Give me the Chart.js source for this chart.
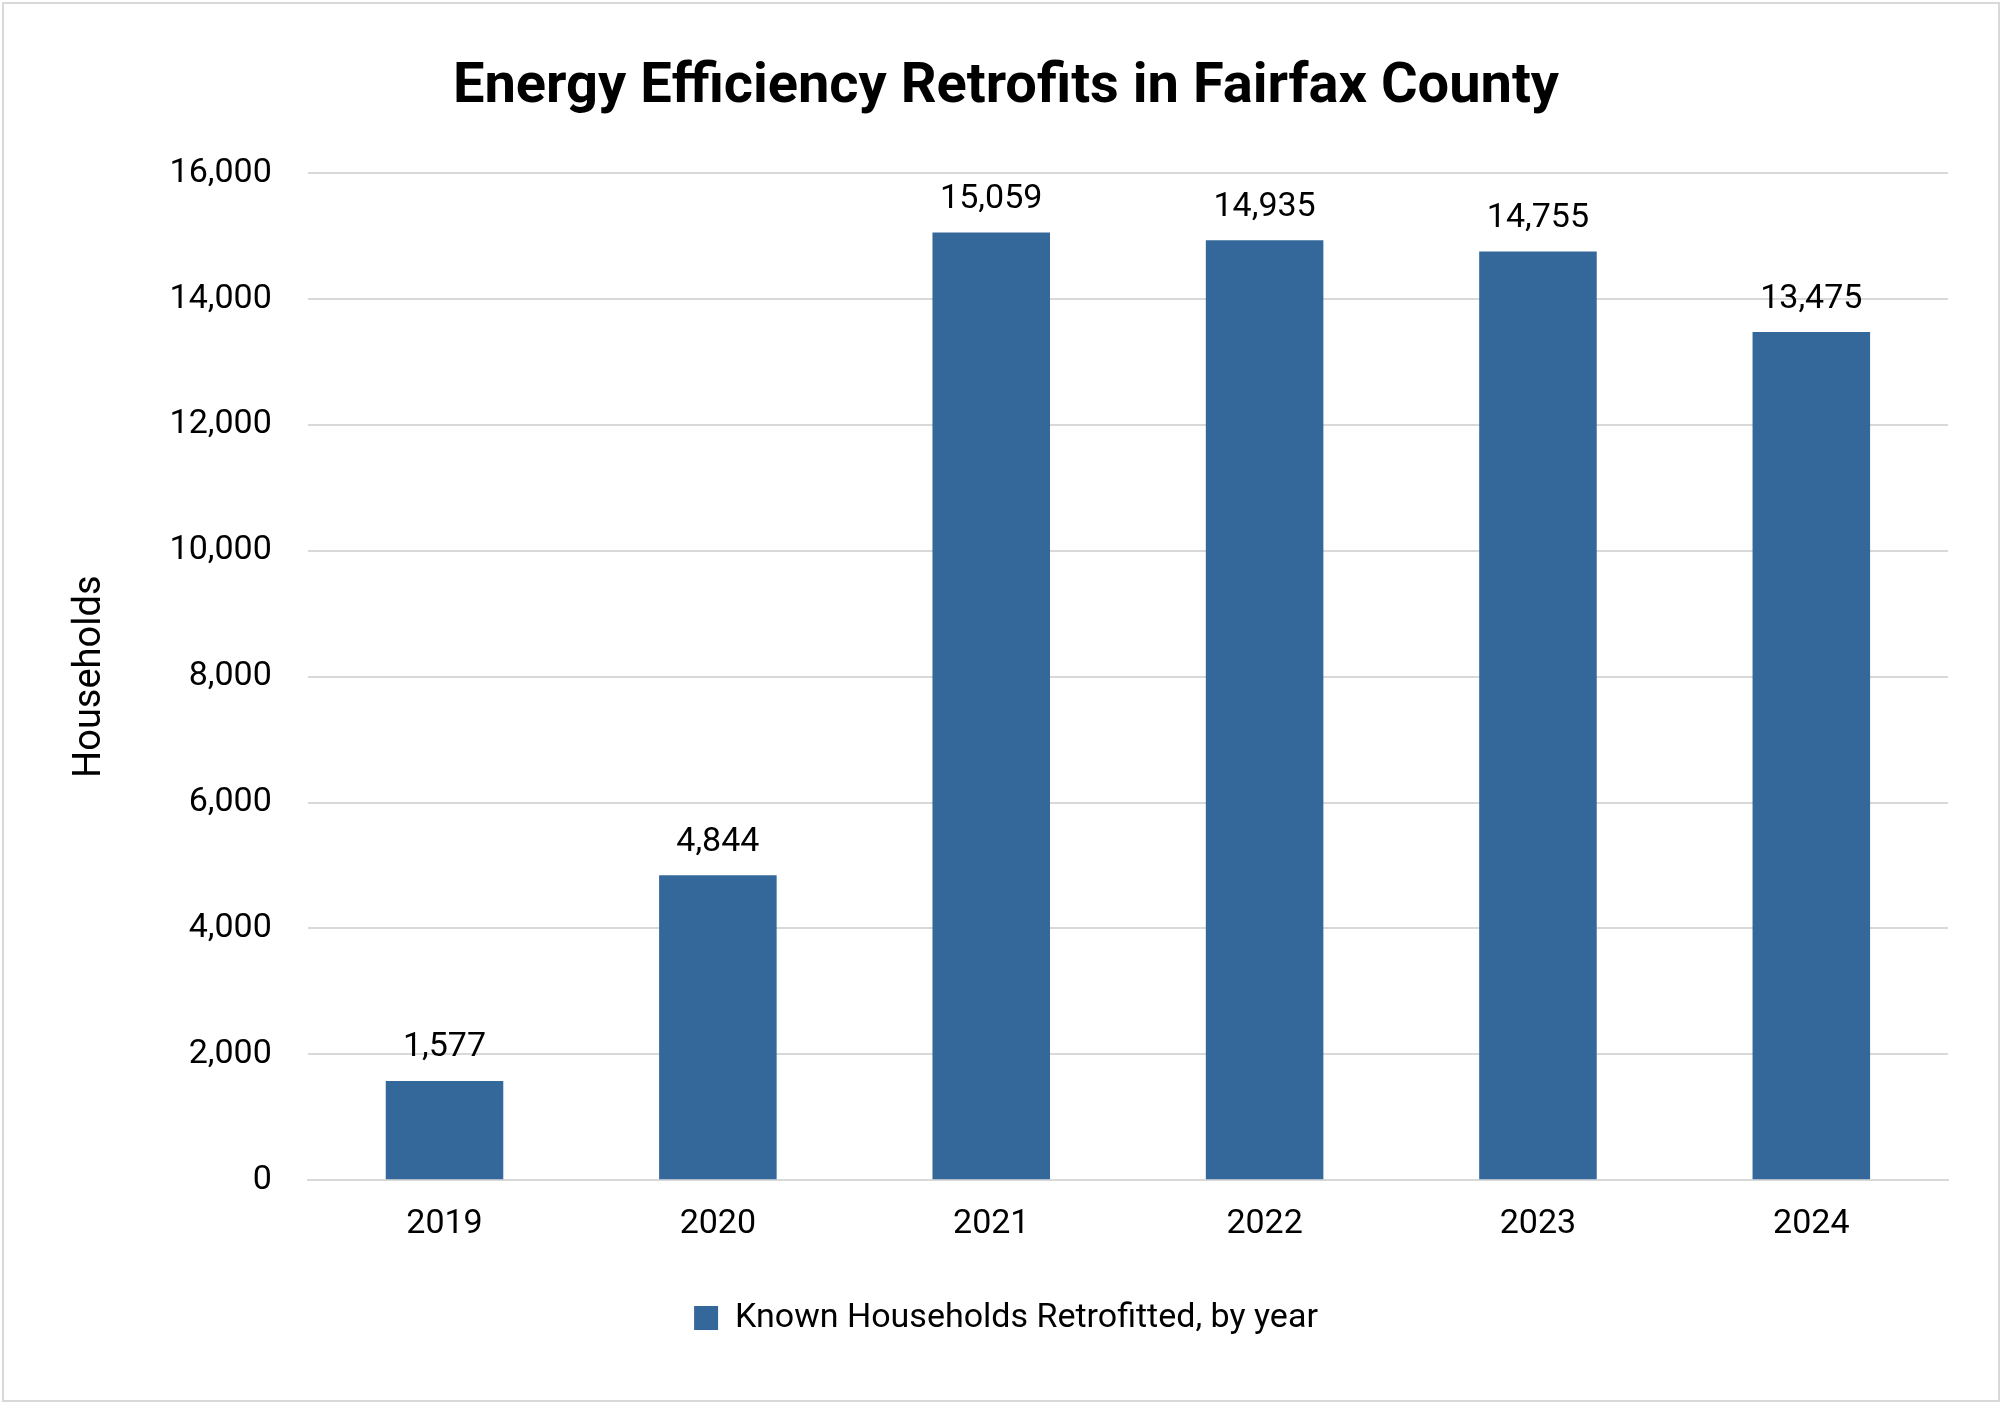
<!DOCTYPE html>
<html><head><meta charset="utf-8">
<script src="https://cdn.jsdelivr.net/npm/chart.js@4/dist/chart.umd.min.js"></script>
<style>html,body{margin:0;padding:0;background:#fff}#wrap{position:absolute;left:2px;top:2px;width:1998px;height:1400px;border:2px solid #d9d9d9;box-sizing:border-box}</style>
</head><body><div id="wrap"><canvas id="c" width="1994" height="1396"></canvas></div>
<script>
const categories = ["2019","2020","2021","2022","2023","2024"];
const values = [1577, 4844, 15059, 14935, 14755, 13475];
const seriesName = "Known Households Retrofitted, by year";
const yTicks = [0,2000,4000,6000,8000,10000,12000,14000,16000];
const F = "'Roboto', 'Liberation Sans', sans-serif";
const labelPlugin = {
  id:'lbl',
  afterDatasetsDraw(chart){
    const ctx=chart.ctx; const meta=chart.getDatasetMeta(0);
    ctx.save(); ctx.font="34px "+F; ctx.fillStyle="#000"; ctx.textAlign="center"; ctx.textBaseline="bottom";
    meta.data.forEach((b,i)=>ctx.fillText(values[i].toLocaleString('en-US'), b.x, b.y-16));
    ctx.restore();
  }
};
new Chart(document.getElementById('c'),{
  type:'bar',
  data:{labels:categories,datasets:[{label:seriesName,data:values,backgroundColor:'#35689A',categoryPercentage:1,barPercentage:0.43}]},
  options:{
    responsive:false, animation:false, devicePixelRatio:1,
    layout:{padding:{left:60,right:50,top:10,bottom:55}},
    plugins:{
      title:{display:true,text:'Energy Efficiency Retrofits in Fairfax County',color:'#000',font:{family:F,size:56,weight:'bold'},padding:{top:40,bottom:52}},
      legend:{position:'bottom',labels:{color:'#000',font:{family:F,size:34},boxWidth:24,boxHeight:24,padding:40},},
      tooltip:{enabled:false}
    },
    scales:{
      x:{grid:{display:false},border:{color:'#d9d9d9',width:2},ticks:{color:'#000',font:{family:F,size:34},padding:16}},
      y:{min:0,max:16000,afterBuildTicks(a){a.ticks=yTicks.map(v=>({value:v}));},
         grid:{color:'#d9d9d9',lineWidth:2,drawTicks:false},border:{display:false},
         ticks:{color:'#000',font:{family:F,size:34},padding:36,callback:v=>v.toLocaleString('en-US')},
         title:{display:true,text:'Households',color:'#000',font:{family:F,size:38},padding:{bottom:20}}}
    }
  },
  plugins:[labelPlugin]
});
</script></body></html>
